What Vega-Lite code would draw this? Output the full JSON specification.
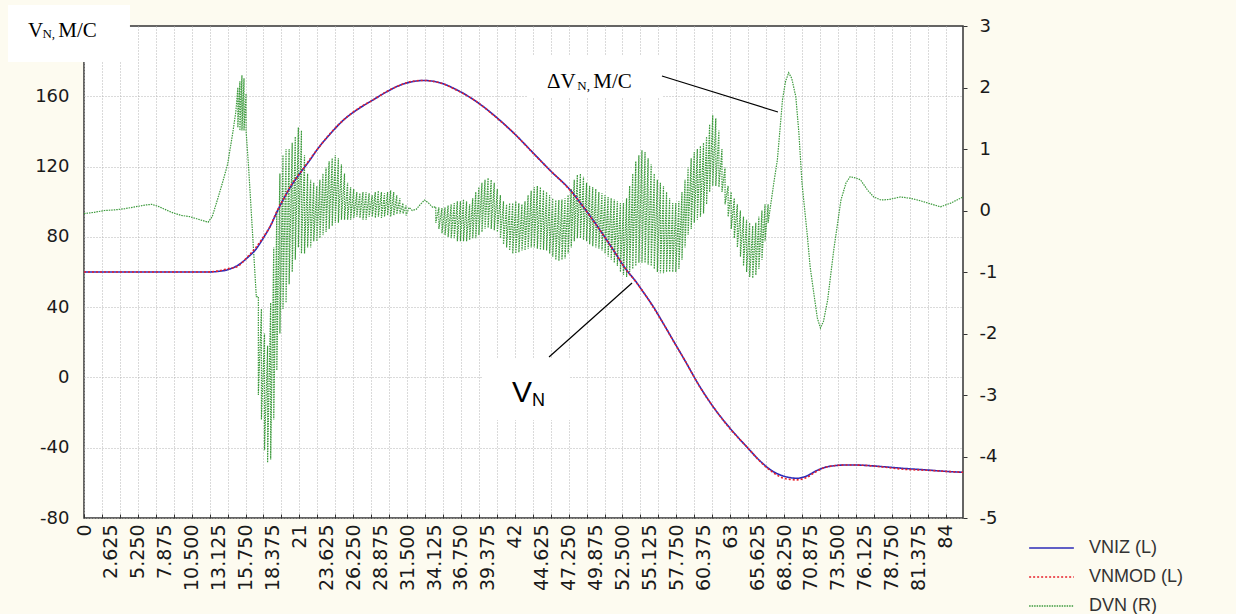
{
  "$schema": "https://vega.github.io/schema/vega-lite/v6.json",
  "width": 879,
  "height": 492,
  "autosize": {"type": "none"},
  "padding": {"left": 84, "top": 26, "right": 273, "bottom": 96},
  "background": "#fdfbf0",
  "config": {
    "view": {"fill": "white", "stroke": "#333333", "strokeWidth": 1.5},
    "axis": {"labelColor": "#1a1a1a", "labelFont": "DejaVu Sans", "gridColor": "#b5b5b5", "gridDash": [1, 2], "gridWidth": 1, "tickColor": "#333333"}
  },
  "datasets": {
    "one": [{}],
    "vn": [
      {"t": 0, "VNIZ": 60, "VNMOD": 60},
      {"t": 4, "VNIZ": 60, "VNMOD": 60},
      {"t": 8, "VNIZ": 60, "VNMOD": 60},
      {"t": 12, "VNIZ": 60, "VNMOD": 60},
      {"t": 13, "VNIZ": 60.3, "VNMOD": 60.5},
      {"t": 14, "VNIZ": 61.3, "VNMOD": 61.8},
      {"t": 15, "VNIZ": 63.8, "VNMOD": 63.3},
      {"t": 16, "VNIZ": 68.5, "VNMOD": 69},
      {"t": 16.7, "VNIZ": 72.5, "VNMOD": 73.5},
      {"t": 17.5, "VNIZ": 79.5, "VNMOD": 80},
      {"t": 18.2, "VNIZ": 86.5, "VNMOD": 86.5},
      {"t": 18.8, "VNIZ": 94, "VNMOD": 94.5},
      {"t": 19.5, "VNIZ": 102, "VNMOD": 102},
      {"t": 20.2, "VNIZ": 109, "VNMOD": 109.5},
      {"t": 21.1, "VNIZ": 116.5, "VNMOD": 116.5},
      {"t": 22, "VNIZ": 123.5, "VNMOD": 124},
      {"t": 22.7, "VNIZ": 129.4, "VNMOD": 129.4},
      {"t": 24, "VNIZ": 138.5, "VNMOD": 138.8},
      {"t": 25.3, "VNIZ": 146.5, "VNMOD": 146.5},
      {"t": 26.8, "VNIZ": 153, "VNMOD": 153.3},
      {"t": 28.2, "VNIZ": 158, "VNMOD": 158},
      {"t": 29.5, "VNIZ": 162.5, "VNMOD": 162.7},
      {"t": 30.8, "VNIZ": 166.3, "VNMOD": 166.3},
      {"t": 32, "VNIZ": 168.3, "VNMOD": 168.5},
      {"t": 33.1, "VNIZ": 169, "VNMOD": 169},
      {"t": 34.7, "VNIZ": 167.7, "VNMOD": 167.7},
      {"t": 36.4, "VNIZ": 163.5, "VNMOD": 163.3},
      {"t": 38, "VNIZ": 158, "VNMOD": 158},
      {"t": 40.3, "VNIZ": 147.6, "VNMOD": 147.4},
      {"t": 42, "VNIZ": 138.5, "VNMOD": 138.5},
      {"t": 44, "VNIZ": 126.5, "VNMOD": 126.3},
      {"t": 45.5, "VNIZ": 117.5, "VNMOD": 117.5},
      {"t": 47.4, "VNIZ": 106.7, "VNMOD": 106.5},
      {"t": 48.5, "VNIZ": 98.5, "VNMOD": 98.5},
      {"t": 50, "VNIZ": 86.5, "VNMOD": 86.3},
      {"t": 51.5, "VNIZ": 73.5, "VNMOD": 73.5},
      {"t": 52.9, "VNIZ": 61.1, "VNMOD": 61},
      {"t": 53.7, "VNIZ": 55.4, "VNMOD": 55.2},
      {"t": 54.6, "VNIZ": 48, "VNMOD": 48},
      {"t": 55.5, "VNIZ": 40.3, "VNMOD": 40},
      {"t": 56.5, "VNIZ": 30.5, "VNMOD": 30.5},
      {"t": 57.5, "VNIZ": 20.5, "VNMOD": 20.3},
      {"t": 58.5, "VNIZ": 10.5, "VNMOD": 10.5},
      {"t": 60.06, "VNIZ": -5.4, "VNMOD": -5.6},
      {"t": 61.5, "VNIZ": -18, "VNMOD": -18},
      {"t": 63, "VNIZ": -29, "VNMOD": -29.3},
      {"t": 64.6, "VNIZ": -39.4, "VNMOD": -39.4},
      {"t": 66, "VNIZ": -48, "VNMOD": -48.3},
      {"t": 67.2, "VNIZ": -53.6, "VNMOD": -54.2},
      {"t": 68.3, "VNIZ": -56.3, "VNMOD": -57.5},
      {"t": 69.5, "VNIZ": -57.4, "VNMOD": -58.3},
      {"t": 70.5, "VNIZ": -56, "VNMOD": -56.8},
      {"t": 71.4, "VNIZ": -53.1, "VNMOD": -53.5},
      {"t": 72.5, "VNIZ": -50.8, "VNMOD": -50.8},
      {"t": 74.4, "VNIZ": -49.8, "VNMOD": -49.8},
      {"t": 76, "VNIZ": -50, "VNMOD": -50},
      {"t": 77.9, "VNIZ": -50.8, "VNMOD": -51},
      {"t": 80, "VNIZ": -51.8, "VNMOD": -52.3},
      {"t": 82, "VNIZ": -52.6, "VNMOD": -52.8},
      {"t": 84.4, "VNIZ": -53.6, "VNMOD": -53.6},
      {"t": 85.7, "VNIZ": -54, "VNMOD": -54}
    ],
    "dvn": [
      {"t": 0, "hi": -0.05, "lo": -0.05},
      {"t": 1, "hi": -0.03, "lo": -0.03},
      {"t": 2, "hi": 0, "lo": 0},
      {"t": 3, "hi": 0.01, "lo": 0.01},
      {"t": 4, "hi": 0.03, "lo": 0.03},
      {"t": 5, "hi": 0.06, "lo": 0.06},
      {"t": 6, "hi": 0.09, "lo": 0.09},
      {"t": 6.6, "hi": 0.1, "lo": 0.1},
      {"t": 7.2, "hi": 0.07, "lo": 0.07},
      {"t": 8, "hi": 0.01, "lo": 0.01},
      {"t": 8.7, "hi": -0.04, "lo": -0.04},
      {"t": 9.5, "hi": -0.08, "lo": -0.08},
      {"t": 10.3, "hi": -0.1, "lo": -0.1},
      {"t": 11.3, "hi": -0.15, "lo": -0.15},
      {"t": 12.1, "hi": -0.19, "lo": -0.19},
      {"t": 12.5, "hi": -0.1, "lo": -0.1},
      {"t": 13, "hi": 0.17, "lo": 0.17},
      {"t": 13.5, "hi": 0.45, "lo": 0.45},
      {"t": 14, "hi": 0.75, "lo": 0.75},
      {"t": 14.5, "hi": 1.26, "lo": 1.26},
      {"t": 14.8, "hi": 1.6, "lo": 1.6},
      {"t": 15.0, "hi": 2.0, "lo": 1.35},
      {"t": 15.2, "hi": 2.1, "lo": 1.3},
      {"t": 15.4, "hi": 2.2, "lo": 1.3},
      {"t": 15.6, "hi": 2.15, "lo": 1.3},
      {"t": 15.8, "hi": 1.9, "lo": 1.3},
      {"t": 16.05, "hi": 0.7, "lo": 0.7},
      {"t": 16.3, "hi": 0.0, "lo": 0.0},
      {"t": 16.55, "hi": -0.7, "lo": -0.7},
      {"t": 16.8, "hi": -1.4, "lo": -1.4},
      {"t": 17.0, "hi": -1.4, "lo": -3.0},
      {"t": 17.3, "hi": -1.6, "lo": -3.4},
      {"t": 17.6, "hi": -2.0, "lo": -3.9},
      {"t": 17.9, "hi": -2.2, "lo": -4.1},
      {"t": 18.2, "hi": -1.5, "lo": -4.05},
      {"t": 18.5, "hi": -0.6, "lo": -3.4},
      {"t": 18.8, "hi": 0.0, "lo": -2.6},
      {"t": 19.1, "hi": 0.6, "lo": -2.0},
      {"t": 19.4, "hi": 0.9, "lo": -1.6},
      {"t": 19.7, "hi": 1.0, "lo": -1.5},
      {"t": 20.0, "hi": 1.0, "lo": -1.2},
      {"t": 20.3, "hi": 1.1, "lo": -1.0},
      {"t": 20.6, "hi": 1.2, "lo": -0.8},
      {"t": 20.9, "hi": 1.35, "lo": -0.6},
      {"t": 21.2, "hi": 1.3, "lo": -0.7},
      {"t": 21.5, "hi": 0.9, "lo": -0.7},
      {"t": 21.8, "hi": 0.6, "lo": -0.6},
      {"t": 22.1, "hi": 0.5, "lo": -0.6},
      {"t": 22.4, "hi": 0.45, "lo": -0.5},
      {"t": 22.7, "hi": 0.4, "lo": -0.5},
      {"t": 23.0, "hi": 0.5, "lo": -0.45},
      {"t": 23.3, "hi": 0.6, "lo": -0.4},
      {"t": 23.6, "hi": 0.7, "lo": -0.35},
      {"t": 23.9, "hi": 0.8, "lo": -0.3},
      {"t": 24.2, "hi": 0.85, "lo": -0.25},
      {"t": 24.5, "hi": 0.9, "lo": -0.2},
      {"t": 24.8, "hi": 0.85, "lo": -0.2},
      {"t": 25.1, "hi": 0.75, "lo": -0.15},
      {"t": 25.4, "hi": 0.6, "lo": -0.15},
      {"t": 25.7, "hi": 0.45, "lo": -0.15},
      {"t": 26.0, "hi": 0.38, "lo": -0.15},
      {"t": 26.3, "hi": 0.35, "lo": -0.12},
      {"t": 26.6, "hi": 0.3, "lo": -0.1},
      {"t": 26.9, "hi": 0.28, "lo": -0.12},
      {"t": 27.2, "hi": 0.3, "lo": -0.15},
      {"t": 27.5, "hi": 0.3, "lo": -0.15},
      {"t": 27.8, "hi": 0.28, "lo": -0.1},
      {"t": 28.1, "hi": 0.25, "lo": -0.1},
      {"t": 28.4, "hi": 0.3, "lo": -0.12},
      {"t": 28.7, "hi": 0.32, "lo": -0.1},
      {"t": 29.0, "hi": 0.3, "lo": -0.12},
      {"t": 29.3, "hi": 0.28, "lo": -0.1},
      {"t": 29.6, "hi": 0.3, "lo": -0.08},
      {"t": 29.9, "hi": 0.33, "lo": -0.1},
      {"t": 30.2, "hi": 0.3, "lo": -0.08},
      {"t": 30.5, "hi": 0.25, "lo": -0.06},
      {"t": 30.8, "hi": 0.2, "lo": -0.05},
      {"t": 31.1, "hi": 0.12, "lo": -0.05},
      {"t": 31.4, "hi": 0.08, "lo": -0.08},
      {"t": 31.7, "hi": 0.05, "lo": 0.05},
      {"t": 32.0, "hi": 0.0, "lo": 0.0},
      {"t": 32.4, "hi": 0.02, "lo": 0.02},
      {"t": 32.8, "hi": 0.1, "lo": 0.1},
      {"t": 33.2, "hi": 0.17, "lo": 0.17},
      {"t": 33.6, "hi": 0.12, "lo": 0.12},
      {"t": 34.0, "hi": 0.05, "lo": 0.05},
      {"t": 34.3, "hi": 0.06, "lo": -0.2},
      {"t": 34.6, "hi": 0.05, "lo": -0.3},
      {"t": 34.9, "hi": 0.04, "lo": -0.37},
      {"t": 35.2, "hi": 0.05, "lo": -0.4},
      {"t": 35.5, "hi": 0.08, "lo": -0.43},
      {"t": 35.8, "hi": 0.1, "lo": -0.45},
      {"t": 36.1, "hi": 0.12, "lo": -0.45},
      {"t": 36.4, "hi": 0.15, "lo": -0.5},
      {"t": 36.7, "hi": 0.15, "lo": -0.5},
      {"t": 37.0, "hi": 0.18, "lo": -0.5},
      {"t": 37.3, "hi": 0.15, "lo": -0.5},
      {"t": 37.6, "hi": 0.1, "lo": -0.48},
      {"t": 37.9, "hi": 0.2, "lo": -0.45},
      {"t": 38.2, "hi": 0.3, "lo": -0.45},
      {"t": 38.5, "hi": 0.38, "lo": -0.4},
      {"t": 38.8, "hi": 0.45, "lo": -0.35},
      {"t": 39.1, "hi": 0.5, "lo": -0.3},
      {"t": 39.4, "hi": 0.53, "lo": -0.28},
      {"t": 39.7, "hi": 0.5, "lo": -0.3},
      {"t": 40.0, "hi": 0.45, "lo": -0.32},
      {"t": 40.3, "hi": 0.35, "lo": -0.35},
      {"t": 40.6, "hi": 0.25, "lo": -0.45},
      {"t": 40.9, "hi": 0.15, "lo": -0.55},
      {"t": 41.2, "hi": 0.1, "lo": -0.6},
      {"t": 41.5, "hi": 0.12, "lo": -0.65},
      {"t": 41.8, "hi": 0.12, "lo": -0.7},
      {"t": 42.1, "hi": 0.15, "lo": -0.7},
      {"t": 42.4, "hi": 0.12, "lo": -0.68},
      {"t": 42.7, "hi": 0.1, "lo": -0.65},
      {"t": 43.0, "hi": 0.15, "lo": -0.65},
      {"t": 43.3, "hi": 0.25, "lo": -0.62},
      {"t": 43.6, "hi": 0.32, "lo": -0.6},
      {"t": 43.9, "hi": 0.38, "lo": -0.6},
      {"t": 44.2, "hi": 0.4, "lo": -0.62},
      {"t": 44.5, "hi": 0.38, "lo": -0.64},
      {"t": 44.8, "hi": 0.33, "lo": -0.64},
      {"t": 45.1, "hi": 0.3, "lo": -0.65},
      {"t": 45.4, "hi": 0.25, "lo": -0.7},
      {"t": 45.7, "hi": 0.2, "lo": -0.75},
      {"t": 46.0, "hi": 0.17, "lo": -0.8},
      {"t": 46.3, "hi": 0.17, "lo": -0.82},
      {"t": 46.6, "hi": 0.18, "lo": -0.8},
      {"t": 46.9, "hi": 0.2, "lo": -0.78},
      {"t": 47.2, "hi": 0.25, "lo": -0.7},
      {"t": 47.5, "hi": 0.35, "lo": -0.6},
      {"t": 47.8, "hi": 0.5, "lo": -0.5},
      {"t": 48.1, "hi": 0.58, "lo": -0.45},
      {"t": 48.4, "hi": 0.6, "lo": -0.45},
      {"t": 48.7, "hi": 0.55, "lo": -0.48},
      {"t": 49.0, "hi": 0.45, "lo": -0.5},
      {"t": 49.3, "hi": 0.4, "lo": -0.55},
      {"t": 49.6, "hi": 0.38, "lo": -0.58},
      {"t": 49.9, "hi": 0.35, "lo": -0.6},
      {"t": 50.2, "hi": 0.3, "lo": -0.62},
      {"t": 50.5, "hi": 0.28, "lo": -0.65},
      {"t": 50.8, "hi": 0.25, "lo": -0.7},
      {"t": 51.1, "hi": 0.22, "lo": -0.75},
      {"t": 51.4, "hi": 0.2, "lo": -0.8},
      {"t": 51.7, "hi": 0.18, "lo": -0.85},
      {"t": 52.0, "hi": 0.15, "lo": -0.9},
      {"t": 52.3, "hi": 0.12, "lo": -1.0},
      {"t": 52.6, "hi": 0.12, "lo": -1.05},
      {"t": 52.9, "hi": 0.2, "lo": -1.08},
      {"t": 53.2, "hi": 0.4, "lo": -1.0},
      {"t": 53.5, "hi": 0.6, "lo": -0.95},
      {"t": 53.8, "hi": 0.8, "lo": -0.9},
      {"t": 54.1, "hi": 0.9, "lo": -0.85},
      {"t": 54.4, "hi": 0.98, "lo": -0.85},
      {"t": 54.7, "hi": 0.95, "lo": -0.85},
      {"t": 55.0, "hi": 0.85, "lo": -0.88},
      {"t": 55.3, "hi": 0.75, "lo": -0.9},
      {"t": 55.6, "hi": 0.6, "lo": -0.95},
      {"t": 55.9, "hi": 0.5, "lo": -1.0},
      {"t": 56.2, "hi": 0.45, "lo": -1.02},
      {"t": 56.5, "hi": 0.4, "lo": -1.02},
      {"t": 56.8, "hi": 0.3, "lo": -1.0},
      {"t": 57.1, "hi": 0.2, "lo": -1.0},
      {"t": 57.4, "hi": 0.12, "lo": -1.0},
      {"t": 57.7, "hi": 0.12, "lo": -1.0},
      {"t": 58.0, "hi": 0.15, "lo": -0.95},
      {"t": 58.3, "hi": 0.3, "lo": -0.8},
      {"t": 58.6, "hi": 0.5, "lo": -0.6},
      {"t": 58.9, "hi": 0.7, "lo": -0.4},
      {"t": 59.2, "hi": 0.85, "lo": -0.3},
      {"t": 59.5, "hi": 0.95, "lo": -0.2},
      {"t": 59.8, "hi": 1.0, "lo": -0.15},
      {"t": 60.1, "hi": 1.05, "lo": -0.1},
      {"t": 60.4, "hi": 1.1, "lo": -0.05},
      {"t": 60.7, "hi": 1.2, "lo": 0.1},
      {"t": 61.0, "hi": 1.4, "lo": 0.3},
      {"t": 61.3, "hi": 1.55, "lo": 0.4},
      {"t": 61.6, "hi": 1.5, "lo": 0.4},
      {"t": 61.9, "hi": 1.3, "lo": 0.38},
      {"t": 62.2, "hi": 1.0, "lo": 0.3},
      {"t": 62.5, "hi": 0.7, "lo": 0.1},
      {"t": 62.8, "hi": 0.4, "lo": -0.1},
      {"t": 63.1, "hi": 0.3, "lo": -0.3},
      {"t": 63.4, "hi": 0.2, "lo": -0.45},
      {"t": 63.7, "hi": 0.1, "lo": -0.6},
      {"t": 64.0, "hi": 0.0, "lo": -0.75},
      {"t": 64.3, "hi": -0.1, "lo": -0.9},
      {"t": 64.6, "hi": -0.15, "lo": -1.0},
      {"t": 64.9, "hi": -0.2, "lo": -1.08},
      {"t": 65.2, "hi": -0.25, "lo": -1.1},
      {"t": 65.5, "hi": -0.2, "lo": -1.05},
      {"t": 65.8, "hi": -0.1, "lo": -0.95},
      {"t": 66.1, "hi": 0.0, "lo": -0.8},
      {"t": 66.4, "hi": 0.1, "lo": -0.5},
      {"t": 66.7, "hi": 0.1, "lo": -0.2},
      {"t": 67.0, "hi": 0.15, "lo": 0.15},
      {"t": 67.3, "hi": 0.5, "lo": 0.5},
      {"t": 67.6, "hi": 0.82, "lo": 0.82},
      {"t": 67.9, "hi": 1.4, "lo": 1.4},
      {"t": 68.1, "hi": 1.8, "lo": 1.8},
      {"t": 68.4, "hi": 2.1, "lo": 2.1},
      {"t": 68.7, "hi": 2.24, "lo": 2.24},
      {"t": 69.0, "hi": 2.15, "lo": 2.15},
      {"t": 69.4, "hi": 1.85, "lo": 1.85},
      {"t": 69.7, "hi": 1.26, "lo": 1.26},
      {"t": 70.0, "hi": 0.45, "lo": 0.45},
      {"t": 70.5, "hi": -0.37, "lo": -0.37},
      {"t": 70.8, "hi": -0.92, "lo": -0.92},
      {"t": 71.2, "hi": -1.4, "lo": -1.4},
      {"t": 71.5, "hi": -1.75, "lo": -1.75},
      {"t": 71.8, "hi": -1.91, "lo": -1.91},
      {"t": 72.1, "hi": -1.8, "lo": -1.8},
      {"t": 72.5, "hi": -1.46, "lo": -1.46},
      {"t": 73.1, "hi": -0.64, "lo": -0.64},
      {"t": 73.8, "hi": 0.17, "lo": 0.17},
      {"t": 74.3, "hi": 0.45, "lo": 0.45},
      {"t": 74.7, "hi": 0.55, "lo": 0.55},
      {"t": 75.2, "hi": 0.53, "lo": 0.53},
      {"t": 75.7, "hi": 0.5, "lo": 0.5},
      {"t": 76.4, "hi": 0.33, "lo": 0.33},
      {"t": 77.0, "hi": 0.22, "lo": 0.22},
      {"t": 77.7, "hi": 0.17, "lo": 0.17},
      {"t": 78.5, "hi": 0.18, "lo": 0.18},
      {"t": 79.6, "hi": 0.22, "lo": 0.22},
      {"t": 80.5, "hi": 0.2, "lo": 0.2},
      {"t": 81.3, "hi": 0.17, "lo": 0.17},
      {"t": 82.3, "hi": 0.12, "lo": 0.12},
      {"t": 83.5, "hi": 0.06, "lo": 0.06},
      {"t": 84.5, "hi": 0.12, "lo": 0.12},
      {"t": 85.7, "hi": 0.22, "lo": 0.22}
    ]
  },
  "layer": [
    {
      "data": {"name": "dvn"},
      "transform": [{"fold": ["hi", "lo"], "as": ["k", "d"]}],
      "mark": {"type": "line", "strokeWidth": 1.2, "interpolate": "linear"},
      "encoding": {
        "x": {"field": "t", "type": "quantitative", "scale": {"domain": [0, 85.7], "nice": false, "zero": false},
          "axis": {"orient": "bottom", "values": [0, 1.75, 3.5, 5.25, 7, 8.75, 10.5, 12.25, 14, 15.75, 17.5, 19.25, 21, 22.75, 24.5, 26.25, 28, 29.75, 31.5, 33.25, 35, 36.75, 38.5, 40.25, 42, 43.75, 45.5, 47.25, 49, 50.75, 52.5, 54.25, 56, 57.75, 59.5, 61.25, 63, 64.75, 66.5, 68.25, 70, 71.75, 73.5, 75.25, 77, 78.75, 80.5, 82.25, 84], "labels": false, "ticks": true, "tickSize": -4, "grid": true, "domain": false, "title": null}},
        "y": {"field": "d", "type": "quantitative", "scale": {"domain": [-5, 3], "nice": false, "zero": false},
          "axis": {"orient": "right", "values": [-5, -4, -3, -2, -1, 0, 1, 2, 3], "grid": false, "domain": false, "ticks": true, "tickSize": 4, "labelPadding": 12, "labelFontSize": 18, "title": null, "labelExpr": "replace(datum.label, '\u2212', '-')"}},
        "order": [{"field": "t", "type": "quantitative"}, {"field": "k", "type": "nominal"}],
        "color": {"datum": "DVN", "type": "nominal", "scale": {"domain": ["VNIZ", "VNMOD", "DVN"], "range": ["#2a2ab8", "#e8202a", "#3c9a3c"]}},
        "strokeDash": {"datum": "DVN", "type": "nominal", "scale": {"domain": ["VNIZ", "VNMOD", "DVN"], "range": [[1, 0], [2, 2], [1.5, 1]]}}
      }
    },
    {
      "data": {"name": "vn"},
      "transform": [{"fold": ["VNIZ", "VNMOD"], "as": ["k", "v"]}],
      "mark": {"type": "line", "strokeWidth": 1.6, "interpolate": "monotone"},
      "encoding": {
        "x": {"field": "t", "type": "quantitative", "scale": {"domain": [0, 85.7], "nice": false, "zero": false},
          "axis": {"orient": "bottom", "values": [0, 2.625, 5.25, 7.875, 10.5, 13.125, 15.75, 18.375, 21, 23.625, 26.25, 28.875, 31.5, 34.125, 36.75, 39.375, 42, 44.625, 47.25, 49.875, 52.5, 55.125, 57.75, 60.375, 63, 65.625, 68.25, 70.875, 73.5, 76.125, 78.75, 81.375, 84],
            "labelExpr": "datum.value % 1 == 0 ? format(datum.value, 'd') : format(datum.value, '.3f')",
            "labelAngle": 270, "labelFontSize": 19, "ticks": false, "grid": false, "domain": false, "labelPadding": 6, "labelOverlap": false, "labelBound": false, "labelFlush": false, "title": null}},
        "y": {"field": "v", "type": "quantitative", "scale": {"domain": [-80, 200], "nice": false, "zero": false},
          "axis": {"orient": "left", "values": [-80, -40, 0, 40, 80, 120, 160], "grid": true, "ticks": false, "domain": false, "labelPadding": 15, "labelFontSize": 18, "title": null, "labelExpr": "replace(datum.label, '\u2212', '-')"}},
        "color": {"field": "k", "type": "nominal", "scale": {"domain": ["VNIZ", "VNMOD", "DVN"], "range": ["#2a2ab8", "#e8202a", "#3c9a3c"]},
          "legend": {"title": null, "orient": "none", "legendX": 944, "legendY": 514, "symbolType": "stroke", "symbolSize": 2000, "symbolStrokeWidth": 1.5, "clipHeight": 16, "rowPadding": 11, "labelFontSize": 18, "labelFont": "Liberation Sans", "labelColor": "#333333", "labelOffset": 14,
            "labelExpr": "datum.label == 'DVN' ? 'DVN (R)' : datum.label + ' (L)'"}},
        "strokeDash": {"field": "k", "type": "nominal", "scale": {"domain": ["VNIZ", "VNMOD", "DVN"], "range": [[1, 0], [2, 2], [1.5, 1]]},
          "legend": {"title": null, "orient": "none", "legendX": 944, "legendY": 514, "symbolType": "stroke", "symbolSize": 2000, "symbolStrokeWidth": 1.5, "clipHeight": 16, "rowPadding": 11, "labelFontSize": 18, "labelFont": "Liberation Sans", "labelColor": "#333333", "labelOffset": 14,
            "labelExpr": "datum.label == 'DVN' ? 'DVN (R)' : datum.label + ' (L)'"}}
      }
    },
    {
      "data": {"name": "one"},
      "mark": {"type": "rect", "fill": "white", "stroke": null},
      "encoding": {
        "x": {"datum": -7.41, "type": "quantitative", "scale": {"domain": [0, 85.7], "nice": false, "zero": false}, "axis": null},
        "x2": {"datum": 4.48},
        "y": {"datum": 211.95, "type": "quantitative", "scale": {"domain": [-80, 200], "nice": false, "zero": false}, "axis": null},
        "y2": {"datum": 179.51}
      }
    },
    {
      "data": {"name": "one"},
      "mark": {"type": "rect", "fill": "white", "stroke": null},
      "encoding": {
        "x": {"datum": 43.19, "type": "quantitative", "scale": {"domain": [0, 85.7], "nice": false, "zero": false}, "axis": null},
        "x2": {"datum": 56.35},
        "y": {"datum": 183.5, "type": "quantitative", "scale": {"domain": [-80, 200], "nice": false, "zero": false}, "axis": null},
        "y2": {"datum": 159.59}
      }
    },
    {
      "data": {"name": "one"},
      "mark": {"type": "rect", "fill": "white", "stroke": null},
      "encoding": {
        "x": {"datum": 38.9, "type": "quantitative", "scale": {"domain": [0, 85.7], "nice": false, "zero": false}, "axis": null},
        "x2": {"datum": 47.38},
        "y": {"datum": 11.06, "type": "quantitative", "scale": {"domain": [-80, 200], "nice": false, "zero": false}, "axis": null},
        "y2": {"datum": -24.23}
      }
    },
    {
      "data": {"name": "one"},
      "mark": {"type": "rule", "stroke": "black", "strokeWidth": 1.2},
      "encoding": {
        "x": {"datum": 56.35, "type": "quantitative", "scale": {"domain": [0, 85.7], "nice": false, "zero": false}, "axis": null},
        "x2": {"datum": 67.66},
        "y": {"datum": 171.54, "type": "quantitative", "scale": {"domain": [-80, 200], "nice": false, "zero": false}, "axis": null},
        "y2": {"datum": 151.06}
      }
    },
    {
      "data": {"name": "one"},
      "mark": {"type": "rule", "stroke": "black", "strokeWidth": 1.2},
      "encoding": {
        "x": {"datum": 45.34, "type": "quantitative", "scale": {"domain": [0, 85.7], "nice": false, "zero": false}, "axis": null},
        "x2": {"datum": 53.43},
        "y": {"datum": 11.62, "type": "quantitative", "scale": {"domain": [-80, 200], "nice": false, "zero": false}, "axis": null},
        "y2": {"datum": 53.74}
      }
    },
    {
      "data": {"name": "one"},
      "mark": {"type": "text", "text": "V", "font": "Liberation Serif", "fontSize": 21, "align": "left", "baseline": "alphabetic", "color": "black"},
      "encoding": {
        "x": {"datum": -5.46, "type": "quantitative", "scale": {"domain": [0, 85.7], "nice": false, "zero": false}, "axis": null},
        "y": {"datum": 193.74, "type": "quantitative", "scale": {"domain": [-80, 200], "nice": false, "zero": false}, "axis": null}
      }
    },
    {
      "data": {"name": "one"},
      "mark": {"type": "text", "text": "N,", "font": "Liberation Serif", "fontSize": 13, "align": "left", "baseline": "alphabetic", "color": "black"},
      "encoding": {
        "x": {"datum": -4.05, "type": "quantitative", "scale": {"domain": [0, 85.7], "nice": false, "zero": false}, "axis": null},
        "y": {"datum": 192.89, "type": "quantitative", "scale": {"domain": [-80, 200], "nice": false, "zero": false}, "axis": null}
      }
    },
    {
      "data": {"name": "one"},
      "mark": {"type": "text", "text": "M/C", "font": "Liberation Serif", "fontSize": 21, "align": "left", "baseline": "alphabetic", "color": "black"},
      "encoding": {
        "x": {"datum": -2.5, "type": "quantitative", "scale": {"domain": [0, 85.7], "nice": false, "zero": false}, "axis": null},
        "y": {"datum": 193.74, "type": "quantitative", "scale": {"domain": [-80, 200], "nice": false, "zero": false}, "axis": null}
      }
    },
    {
      "data": {"name": "one"},
      "mark": {"type": "text", "text": "ΔV", "font": "Liberation Serif", "fontSize": 21, "align": "left", "baseline": "alphabetic", "color": "black"},
      "encoding": {
        "x": {"datum": 45.14, "type": "quantitative", "scale": {"domain": [0, 85.7], "nice": false, "zero": false}, "axis": null},
        "y": {"datum": 164.72, "type": "quantitative", "scale": {"domain": [-80, 200], "nice": false, "zero": false}, "axis": null}
      }
    },
    {
      "data": {"name": "one"},
      "mark": {"type": "text", "text": "N,", "font": "Liberation Serif", "fontSize": 13, "align": "left", "baseline": "alphabetic", "color": "black"},
      "encoding": {
        "x": {"datum": 48.1, "type": "quantitative", "scale": {"domain": [0, 85.7], "nice": false, "zero": false}, "axis": null},
        "y": {"datum": 163.86, "type": "quantitative", "scale": {"domain": [-80, 200], "nice": false, "zero": false}, "axis": null}
      }
    },
    {
      "data": {"name": "one"},
      "mark": {"type": "text", "text": "M/C", "font": "Liberation Serif", "fontSize": 21, "align": "left", "baseline": "alphabetic", "color": "black"},
      "encoding": {
        "x": {"datum": 49.65, "type": "quantitative", "scale": {"domain": [0, 85.7], "nice": false, "zero": false}, "axis": null},
        "y": {"datum": 164.72, "type": "quantitative", "scale": {"domain": [-80, 200], "nice": false, "zero": false}, "axis": null}
      }
    },
    {
      "data": {"name": "one"},
      "mark": {"type": "text", "text": "V", "font": "Liberation Sans", "fontSize": 30, "align": "left", "baseline": "alphabetic", "color": "black"},
      "encoding": {
        "x": {"datum": 41.73, "type": "quantitative", "scale": {"domain": [0, 85.7], "nice": false, "zero": false}, "axis": null},
        "y": {"datum": -13.98, "type": "quantitative", "scale": {"domain": [-80, 200], "nice": false, "zero": false}, "axis": null}
      }
    },
    {
      "data": {"name": "one"},
      "mark": {"type": "text", "text": "N", "font": "Liberation Sans", "fontSize": 18, "align": "left", "baseline": "alphabetic", "color": "black"},
      "encoding": {
        "x": {"datum": 43.68, "type": "quantitative", "scale": {"domain": [0, 85.7], "nice": false, "zero": false}, "axis": null},
        "y": {"datum": -16.26, "type": "quantitative", "scale": {"domain": [-80, 200], "nice": false, "zero": false}, "axis": null}
      }
    }
  ],
  "resolve": {"scale": {"y": "independent"}, "axis": {"x": "independent", "y": "independent"}}
}
